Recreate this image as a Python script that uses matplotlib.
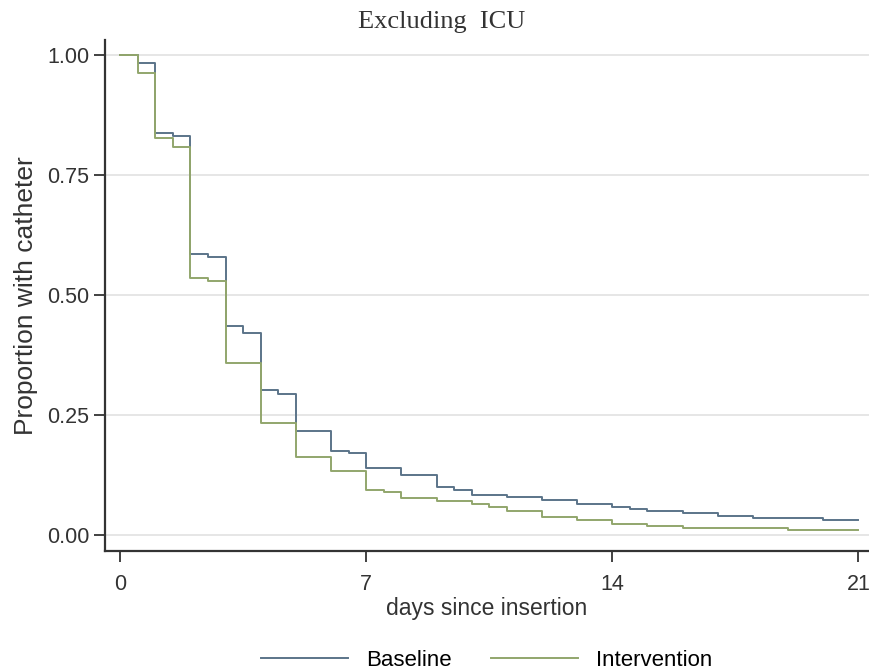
import matplotlib.pyplot as plt

# Kaplan-Meier style step data
base_days = [0, 0.5, 1, 1.5, 2, 2.5, 3, 3.5, 4, 4.5, 5, 6, 6.5, 7, 8, 9, 9.5,
             10, 11, 12, 13, 14, 14.5, 15, 16, 17, 18, 20, 21]
base_prop = [1.0, 0.983, 0.838, 0.831, 0.585, 0.580, 0.435, 0.420, 0.303, 0.294,
             0.217, 0.174, 0.170, 0.140, 0.125, 0.099, 0.094, 0.083, 0.080, 0.073,
             0.064, 0.059, 0.055, 0.050, 0.046, 0.040, 0.036, 0.031, 0.031]

int_days = [0, 0.5, 1, 1.5, 2, 2.5, 3, 4, 5, 6, 7, 7.5, 8, 9, 10, 10.5, 11,
            12, 13, 14, 15, 16, 19, 21]
int_prop = [1.0, 0.963, 0.827, 0.809, 0.535, 0.528, 0.358, 0.234, 0.162, 0.133,
            0.094, 0.090, 0.0765, 0.0715, 0.065, 0.059, 0.049, 0.037, 0.031,
            0.023, 0.019, 0.015, 0.0104, 0.0104]

x_ticks = [0, 7, 14, 21]
y_ticks = [0.0, 0.25, 0.5, 0.75, 1.0]
y_ticklabels = ['0.00', '0.25', '0.50', '0.75', '1.00']

plt.rcParams['font.family'] = ['Liberation Sans', 'DejaVu Sans']

fig = plt.figure(figsize=(8.69, 6.71), dpi=100)
ax = fig.add_axes([0.1208, 0.1793, 0.8792, 0.7611])

ax.step(base_days, base_prop, where='post', color='#5b7489', lw=1.4, label='Baseline')
ax.step(int_days, int_prop, where='post', color='#92a66c', lw=1.4, label='Intervention')

ax.set_xlim(-0.43, 21.3)
ax.set_ylim(-0.0327, 1.031)
ax.set_xticks(x_ticks)
ax.set_yticks(y_ticks)
ax.set_yticklabels(y_ticklabels)
ax.tick_params(labelsize=15.5, colors='#333333', length=8, width=1.3)
ax.tick_params(axis='x', pad=9)

ax.grid(axis='y', color='#e2e2e2', lw=1.2)
ax.set_axisbelow(True)
for s in ['top', 'right']:
    ax.spines[s].set_visible(False)
for s in ['left', 'bottom']:
    ax.spines[s].set_color('#333333')
    ax.spines[s].set_linewidth(1.6)

ax.set_xlabel('days since insertion', fontsize=16.5, color='#333333', labelpad=1)
ax.set_ylabel('Proportion with catheter', fontsize=19, color='#333333', labelpad=6)
fig.text(0.508, 0.967, 'Excluding  ICU', family='Liberation Serif', fontsize=19,
         ha='center', va='center', color='#333333')

fig.legend(loc='center', bbox_to_anchor=(0.56, 0.016), ncol=2, frameon=False,
           fontsize=16, handlelength=3.9, columnspacing=1.8, handletextpad=0.8)

fig.savefig('out.png', dpi=100)
